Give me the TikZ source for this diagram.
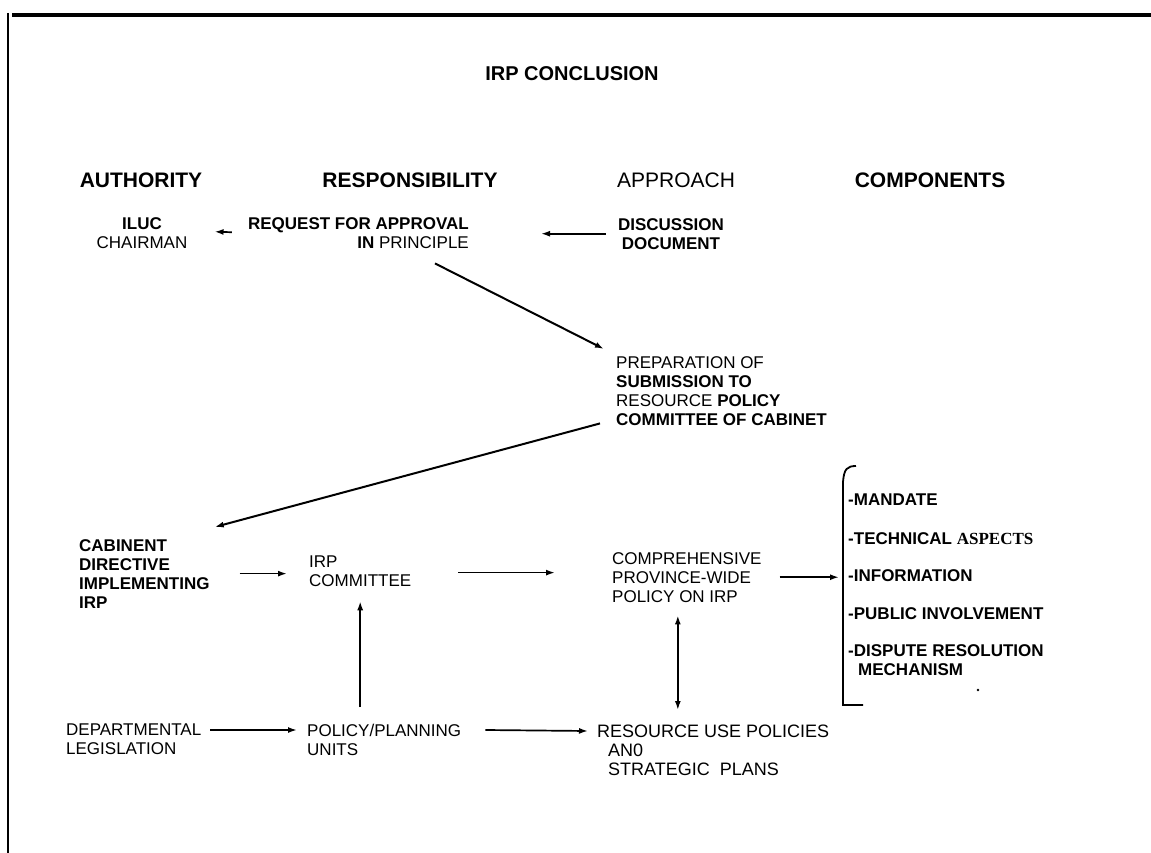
\documentclass[tikz,border=0pt]{standalone}
\usepackage{fontspec}
\setmainfont{Liberation Sans}
\newfontfamily\serifface{Liberation Serif}
\usetikzlibrary{arrows.meta,calc}
\begin{document}
\begin{tikzpicture}[x=1pt,y=-1pt,
  txt/.style={inner sep=0pt, anchor=north west, align=left, font=\fontsize{17}{19}\selectfont},
  big/.style={txt, font=\fontsize{18}{19}\selectfont},
  hdr/.style={inner sep=0pt, anchor=center, font=\fontsize{21}{24}\selectfont\bfseries},
  arr/.style={line width=1.7pt, -{Latex[length=9pt,width=6pt]}},
  diag/.style={arr, line width=2pt},
  dbl/.style={line width=1.7pt, {Latex[length=9pt,width=6pt]}-{Latex[length=9pt,width=6pt]}},
  frame/.style={line width=1.8pt}
  ]
\fill[white] (0,0) rectangle (1151,853);
\useasboundingbox (0,0) rectangle (1151,853);
% page border
\draw[line width=4.5pt] (12,15) -- (1151,15);
\draw[line width=2.5pt] (8,13) -- (8,853);

% title and headers
\node[hdr, font=\fontsize{20}{24}\selectfont\bfseries] (title) at (572,74) {IRP CONCLUSION};
\node[hdr] (hauth) at (141,180) {AUTHORITY};
\node[hdr] (hresp) at (410,180) {RESPONSIBILITY};
\node[hdr, font=\fontsize{21}{24}\selectfont] (happ) at (676,180) {APPROACH};
\node[hdr] (hcomp) at (930,180) {COMPONENTS};

% row 2
\node[txt, anchor=north, align=center] (iluc) at (142,217) {\textbf{ILUC}\\CHAIRMAN};
\node[txt, anchor=north east, align=right] (req) at (469,217) {\textbf{REQUEST FOR APPROVAL}\\\textbf{IN} PRINCIPLE};
\node[txt, anchor=north, align=center] (disc) at (671,218) {\textbf{DISCUSSION}\\\textbf{DOCUMENT}};

% preparation
\node[txt] (prep) at (616,356) {PREPARATION OF\\\textbf{SUBMISSION TO}\\RESOURCE \textbf{POLICY}\\\textbf{COMMITTEE OF CABINET}};

% row 3
\node[txt] (cab) at (79,539) {\textbf{CABINENT}\\\textbf{DIRECTIVE}\\\textbf{IMPLEMENTING}\\\textbf{IRP}};
\node[txt] (irpc) at (309,556) {IRP\\COMMITTEE};
\node[txt] (comp) at (612,552) {COMPREHENSIVE\\PROVINCE-WIDE\\POLICY ON IRP};

% components
\coordinate (brk) at (843,470);
\coordinate (brkb) at (843,705);
\draw[frame] (856,466) .. controls (847,466) and (844,469) .. (843,482) -- (brkb) -- (863,705);
\node[txt] (c1) at (848,494) {\textbf{-MANDATE}};
\node[txt] (c2) at (848,532) {\textbf{-TECHNICAL} {\serifface\bfseries ASPECTS}};
\node[txt] (c3) at (848,569) {\textbf{-INFORMATION}};
\node[txt] (c4) at (848,607) {\textbf{-PUBLIC INVOLVEMENT}};
\node[txt] (c5) at (848,644) {\textbf{-DISPUTE RESOLUTION}\\\hspace*{10pt}\textbf{MECHANISM}};
\fill (978,690) circle (1.4pt);

% bottom row
\node[txt] (dep) at (66,724) {DEPARTMENTAL\\LEGISLATION};
\node[txt] (pol) at (307,724) {POLICY/PLANNING\\UNITS};
\node[big] (res) at (597,725) {RESOURCE USE POLICIES\\\hspace*{11pt}AN0\\\hspace*{11pt}STRATEGIC\ \ PLANS};

% connectors
\draw[arr, shorten <=16pt] (req.west) -- ($(iluc.east)+(27,-1)$);
\draw[arr, shorten <=12pt] (disc.west) -- ($(disc.west -| req.east)+(72,0)$);
\draw[diag] ($(req.south east)+(-34,15)$) -- ($(prep.north west)+(-12,-7)$);
\draw[diag] ($(prep.south west)+(-16,-2)$) -- ($(cab.north east)+(5,-12)$);
\draw[arr, shorten <=30pt, shorten >=22pt] (cab.east) -- (cab.east -| irpc.west);
\draw[arr] ($(irpc.east)+(47,1)$) -- ($(irpc.east -| comp.west)+(-57,1)$);
\draw[arr, shorten <=18pt, shorten >=4pt] (comp.east) -- (comp.east -| brk);
\draw[arr] ($(pol.north -| irpc.south)+(0,-17)$) -- ($(irpc.south)+(0,14)$);
\draw[dbl] ($(comp.south)+(-9,13)$) -- ($(comp.south |- res.north)+(-9,-15)$);
\draw[arr] ($(dep.north east)+(9,6)$) -- ($(pol.north west)+(-10,6)$);
\draw[arr] ($(pol.north east)+(24,6)$) -- ($(res.north west)+(-9,6)$);
\end{tikzpicture}
\end{document}
